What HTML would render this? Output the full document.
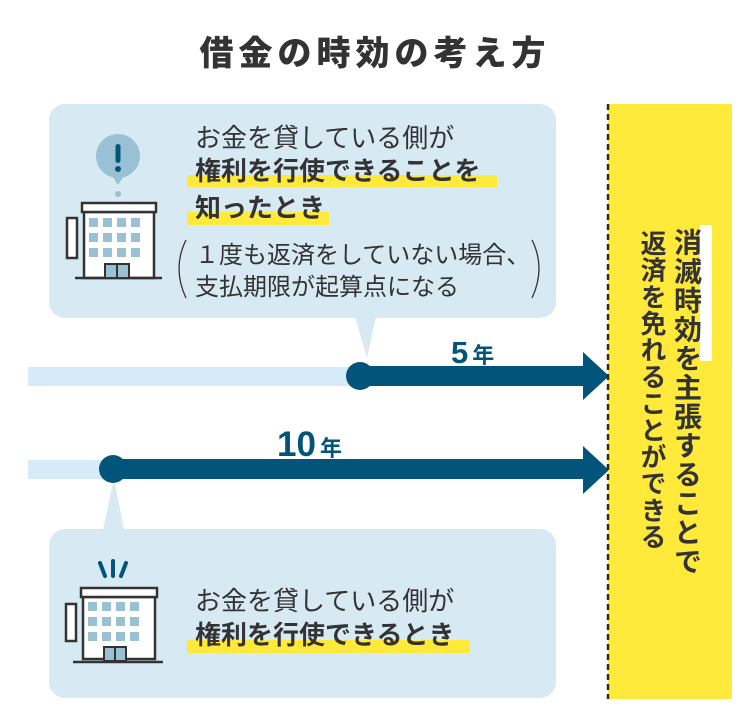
<!DOCTYPE html>
<html><head><meta charset="utf-8"><style>
body{margin:0;width:750px;height:725px;background:#fff;position:relative;overflow:hidden;font-family:"Liberation Sans","Noto Sans CJK JP",sans-serif;color:#333}
.a{position:absolute;white-space:nowrap}
.box{position:absolute;background:#d7eaf4;border-radius:16px}
.t{position:absolute;white-space:nowrap;line-height:1;font-family:"Noto Sans CJK JP",sans-serif}
.hl{position:absolute;background:#ffe93b}
.v{position:absolute;writing-mode:vertical-rl;font-family:"Noto Sans CJK JP",sans-serif;font-weight:bold;line-height:1;color:#333}
.n{font-family:"Liberation Sans",sans-serif;font-weight:bold}
</style></head><body>
<div class="t" style="left:0;width:750px;text-align:center;top:34px;font-size:34px;font-weight:900;letter-spacing:5px">借金の時効の考え方</div>

<div class="box" style="left:49px;top:104px;width:507px;height:214px"></div>
<div class="box" style="left:49px;top:529px;width:507px;height:169px"></div>

<svg class="a" style="left:0;top:0" width="750" height="725">
 <polygon points="355,317 376,317 367,358" fill="#d7eaf4"/>
 <polygon points="103,530 124,530 114,478" fill="#d7eaf4"/>
 <rect x="28" y="367" width="335" height="19" fill="#d6eafa"/>
 <rect x="28" y="460" width="90" height="19" fill="#d6eafa"/>
 <rect x="360" y="366" width="225" height="20" fill="#03547a"/>
 <circle cx="360" cy="376" r="14" fill="#03547a"/>
 <polygon points="583,352 609,376 583,400" fill="#03547a"/>
 <rect x="113" y="459" width="472" height="20" fill="#03547a"/>
 <circle cx="113" cy="469" r="14" fill="#03547a"/>
 <polygon points="583,446 609,470 583,494" fill="#03547a"/>
 <circle cx="118" cy="156" r="22" fill="#99c0d3"/>
 <polygon points="111,174 125,174 118,185" fill="#99c0d3"/>
 <circle cx="118" cy="194" r="3" fill="#99c0d3"/>
 <rect x="115.5" y="144" width="5" height="19" rx="2.5" fill="#03547a"/>
 <circle cx="118" cy="169" r="3" fill="#03547a"/>
 <g stroke="#333" stroke-width="2.5" fill="#fff">
  <rect x="67" y="218" width="10" height="40"/>
  <rect x="84" y="212" width="70" height="66"/>
  <rect x="82" y="203" width="74" height="9"/>
  <line x1="75" y1="278" x2="162" y2="278"/>
 </g>
 <g fill="#99c0d3">
  <rect x="89" y="218" width="9" height="9"/><rect x="103" y="218" width="9" height="9"/><rect x="117" y="218" width="9" height="9"/><rect x="131" y="218" width="9" height="9"/>
  <rect x="89" y="233" width="9" height="9"/><rect x="103" y="233" width="9" height="9"/><rect x="117" y="233" width="9" height="9"/><rect x="131" y="233" width="9" height="9"/>
  <rect x="89" y="248" width="9" height="9"/><rect x="103" y="248" width="9" height="9"/><rect x="117" y="248" width="9" height="9"/><rect x="131" y="248" width="9" height="9"/>
 </g>
 <rect x="105" y="264" width="24" height="14" fill="#99c0d3" stroke="#333" stroke-width="2"/>
 <line x1="117" y1="264" x2="117" y2="278" stroke="#333" stroke-width="2"/>
 <g stroke="#03547a" stroke-width="4" stroke-linecap="round">
  <line x1="100" y1="563" x2="105" y2="576"/><line x1="113" y1="561" x2="113" y2="576"/><line x1="126" y1="563" x2="121" y2="576"/>
 </g>
 <g stroke="#333" stroke-width="2.5" fill="#fff">
  <rect x="66" y="604" width="10" height="37"/>
  <rect x="83" y="597" width="72" height="62"/>
  <rect x="81" y="588" width="76" height="9"/>
  <line x1="73" y1="662" x2="163" y2="662"/>
 </g>
 <g fill="#99c0d3">
  <rect x="88" y="602" width="9" height="9"/><rect x="102" y="602" width="9" height="9"/><rect x="116" y="602" width="9" height="9"/><rect x="130" y="602" width="9" height="9"/>
  <rect x="88" y="617" width="9" height="9"/><rect x="102" y="617" width="9" height="9"/><rect x="116" y="617" width="9" height="9"/><rect x="130" y="617" width="9" height="9"/>
  <rect x="88" y="632" width="9" height="9"/><rect x="102" y="632" width="9" height="9"/><rect x="116" y="632" width="9" height="9"/><rect x="130" y="632" width="9" height="9"/>
 </g>
 <rect x="104" y="647" width="22" height="14" fill="#99c0d3" stroke="#333" stroke-width="2"/>
 <line x1="115" y1="647" x2="115" y2="661" stroke="#333" stroke-width="2"/>
 <path d="M186,240 Q172,268 186,298" fill="none" stroke="#333" stroke-width="1.3"/>
 <path d="M532,240 Q546,268 532,298" fill="none" stroke="#333" stroke-width="1.3"/>
 <rect x="608" y="104" width="124" height="595" fill="#ffe93b"/>
 <line x1="608" y1="104" x2="608" y2="699" stroke="#2a2a2a" stroke-width="2.5" stroke-dasharray="6,4"/>
 <rect x="700" y="225" width="12" height="136" fill="#fff"/>
</svg>

<div class="hl" style="left:187px;top:175px;width:310px;height:12px"></div>
<div class="hl" style="left:187px;top:212px;width:142px;height:13px"></div>
<div class="t" style="left:195px;top:124px;font-size:26px">お金を貸している側が</div>
<div class="t" style="left:195px;top:157px;font-size:26px;font-weight:bold">権利を行使できることを</div>
<div class="t" style="left:195px;top:194px;font-size:26px;font-weight:bold">知ったとき</div>
<div class="t" style="left:195px;top:241px;font-size:24px">１度も返済をしていない場合、</div>
<div class="t" style="left:195px;top:273px;font-size:24px">支払期限が起算点になる</div>

<div class="hl" style="left:187px;top:640px;width:283px;height:13px"></div>
<div class="t" style="left:195px;top:587px;font-size:26px">お金を貸している側が</div>
<div class="t" style="left:195px;top:621px;font-size:26px;font-weight:bold">権利を行使できるとき</div>

<div class="t" style="left:451px;top:334px;font-size:31px;color:#03547a"><span class="n">5</span><span style="font-size:22px;font-weight:bold;margin-left:4px">年</span></div>
<div class="t" style="left:277px;top:424px;font-size:35px;color:#03547a"><span class="n">10</span><span style="font-size:22px;font-weight:bold;margin-left:4px">年</span></div>

<div class="v" style="left:674px;top:228px;font-size:28px;letter-spacing:1px">消滅時効を主張することで</div>
<div class="v" style="left:640px;top:230px;font-size:26px;letter-spacing:0.7px">返済を免れることができる</div>
</body></html>
